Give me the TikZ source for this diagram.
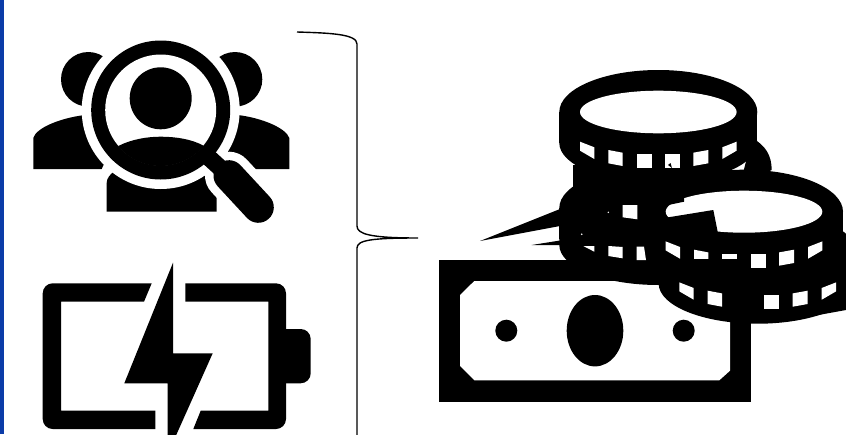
\documentclass[tikz,border=0pt]{standalone}
\usepackage{xcolor}
\definecolor{edgebar}{HTML}{0B3CA8}
\tikzset{
  ink/.style={fill=black},
  paper/.style={fill=white},
  brace/.style={draw=black, line width=1.4pt}
}
% one coin, solid
\newcommand{\coinbody}[2]{
  \fill[ink] (#1,#2) ellipse [x radius=99, y radius=42];
  \fill[ink] (#1-99,#2) rectangle (#1+99,#2+31);
  \fill[ink] (#1,#2+31) ellipse [x radius=99, y radius=40];
}
% the six windows in the rim of a coin
\newcommand{\coinwins}[2]{
  \foreach \xa/\xb/\ta/\tb/\bb/\ba in {-78.3/-64/29.7/35.3/47/38.7, -50/-35.7/38/40.7/54/51.3, -21.7/-6.7/42/42/56.3/56.3, 6.7/21.7/42/42/56.3/56.3, 35/50/40.7/38/51.3/54, 64/78.3/35.3/29.7/38.7/47}
    \fill[paper] (#1+\xa,#2+\ta) -- (#1+\xb,#2+\tb) -- (#1+\xb,#2+\bb) -- (#1+\xa,#2+\ba) -- cycle;
}
\begin{document}
\begin{tikzpicture}[x=1pt, y=-1pt]
\clip (0,0) rectangle (846,434);
\fill[paper] (0,0) rectangle (846,434);
\fill[edgebar] (0,0) rectangle (3.7,434);

% people
\fill[ink] (88.3,79.3) circle (27.3);
\fill[ink] (235,79.3) circle (27.3);
\fill[ink] (33.3,169) -- (33.3,138) .. controls (36,128) and (60,118) .. (85,115) -- (110,115) -- (110,160) -- (103.5,165) -- (101.7,169) -- cycle;
\fill[ink] (289.3,169) -- (289.3,138) .. controls (286,128) and (262,118) .. (238,115) -- (210,115) -- (210,169) -- cycle;
\fill[ink] (106.7,211.7) -- (106.7,183) .. controls (106.7,178) and (110,175) .. (114,171) -- (216.7,171) -- (216.7,211.7) -- cycle;
\fill[paper] (160.7,110) circle (79);
\draw[white, line width=48pt, line cap=round] (229,175.7) -- (258.3,207.3);
\draw[white, line width=32pt] (205,154) -- (229,176);
\fill[ink] (160.7,110) circle (69.5);
\fill[paper] (160.7,110) circle (55.5);
\fill[ink] (160.7,98.3) circle (31);
\begin{scope}
  \clip (160.7,110) circle (56);
  \fill[ink] (110,148) -- (118.3,146) .. controls (132,139) and (148,136.7) .. (160.7,136.7) .. controls (175,136.7) and (192,139) .. (204,146) -- (215,148) -- (215,185) -- (110,185) -- cycle;
\end{scope}
\draw[black, line width=17pt] (205,154) -- (229,176);
\draw[black, line width=31pt, line cap=round] (229,175.7) -- (258.3,207.3);

% battery
\fill[ink] (151.7,283.3) [rounded corners=10pt] -- (42.7,283.3) -- (42.7,429) [sharp corners] -- (155.3,429) -- (155.3,410.7) -- (61,410.7) -- (61,301.7) -- (144,301.7) -- cycle;
\fill[ink] (185.3,283.3) [rounded corners=10pt] -- (286,283.3) -- (286,429) [sharp corners] -- (193.3,429) -- (200.7,410.7) -- (268.3,410.7) -- (268.3,301.7) -- (185.3,301.7) -- cycle;
\fill[ink] (280,329) [rounded corners=10pt] -- (310.7,329) -- (310.7,383.3) [sharp corners] -- (280,383.3) -- cycle;
\fill[ink] (173,262.7) -- (124.3,383.3) -- (167.7,383.3) -- (167.7,440) -- (174,440) -- (212.7,353.3) -- (173,353.3) -- cycle;

% curly bracket
\draw[brace] (297,32) .. controls (330,33) and (357,34) .. (357,44) -- (357,226) .. controls (357,234) and (370,238) .. (418,238) .. controls (372,238) and (357,240) .. (357,248) -- (357,440);

% banknote
\fill[ink] (439,260) rectangle (751,401.7);
\fill[paper] (474.3,281) -- (460,295) -- (460,366) -- (474.3,380.3) -- (719.3,380.3) -- (730,370.7) -- (730,281) -- cycle;
\fill[ink] (595,330.7) ellipse [x radius=28.3, y radius=35.7];
\fill[ink] (506.3,330.7) circle (11);
\fill[ink] (683.7,330.7) circle (11);

% splinters
\fill[ink] (480,241) -- (560,209) -- (560,226) -- cycle;
\fill[ink] (531.7,245) -- (560,240.5) -- (560,245) -- cycle;

% coins
\coinbody{658.3}{208}
\fill[ink] (658.3,245) ellipse [x radius=99, y radius=40];
\coinbody{658.3}{112}
\fill[ink] (573,165) rectangle (620,205);
\fill[ink] (752,138) .. controls (765,145) and (771.7,155) .. (771.7,170) -- (740,185) -- cycle;
\coinbody{744}{211.7}
\coinbody{757.7}{252.7}
\fill[ink] (780,322) -- (846,310) -- (846,285) -- cycle;
\fill[ink] (600,225) rectangle (700,262);

\fill[paper] (658.3,112) ellipse [x radius=78.3, y radius=21.3];
\coinwins{658.3}{112}
\fill[ink] (668,165) -- (670.5,163) -- (672,168) -- cycle;

\fill[paper] (744,211.7) ellipse [x radius=78.3, y radius=21];
\fill[ink] (668.3,217.3) -- (713.3,210) -- (717.7,232) -- (696.7,234) -- (660,228) -- cycle;
\fill[ink] (684,201.7) -- (684,188) -- (660,188) -- (660,207) -- (668.3,205) -- cycle;
\coinwins{744}{211.7}
\fill[ink] (690,259.3) rectangle (737,275);

\coinwins{757.7}{252.7}
\fill[ink] (735,285) rectangle (751,310);

% loose windows of the hidden coins
\fill[paper] (622.7,205) -- (637.3,205) -- (637.3,219.3) -- (622.7,217.3) -- cycle;
\fill[paper] (583.3,246) -- (594.3,246) -- (594.3,251.7) -- cycle;
\fill[paper] (608.3,246) -- (622.7,247) -- (622.7,258.3) -- (608.3,256) -- cycle;
\fill[paper] (636.7,246.7) -- (644,246.7) -- (646,260) -- (636.7,260) -- cycle;
\fill[paper] (608.3,212.3) circle (0.8);
\fill[paper] (581.7,234.3) circle (0.9);
\end{tikzpicture}
\end{document}
